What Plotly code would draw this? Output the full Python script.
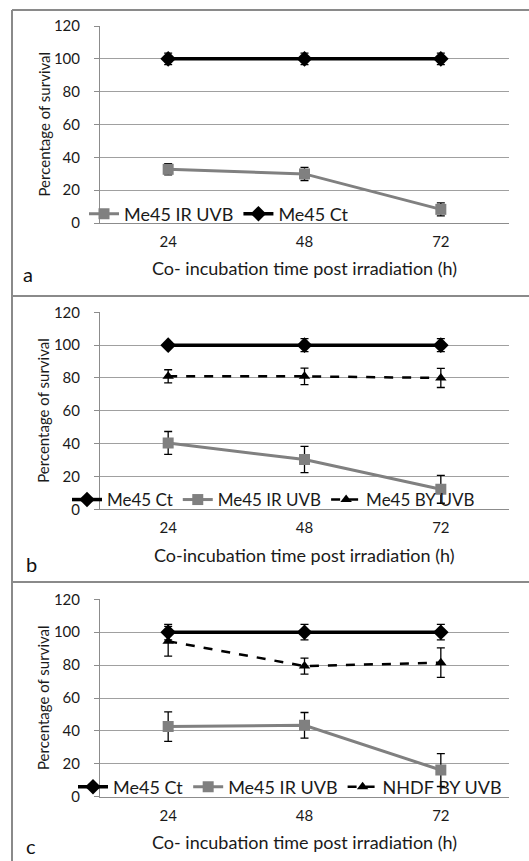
import plotly.graph_objects as go

W, H = 529, 861
FONT = "Lato"

times = ["24", "48", "72"]
y_ticks = [0, 20, 40, 60, 80, 100, 120]

# Panel a
a_ir = [32.7, 29.9, 8.3]
a_ir_err = [3.4, 4.0, 3.9]
a_ct = [100, 100, 100]
a_ct_err = [3.5, 3.5, 3.5]

# Panel b
b_ct = [100, 100, 100]
b_ct_err = [0.5, 4.0, 4.0]
b_ir = [40.4, 30.3, 12.2]
b_ir_err = [7.0, 8.0, 8.5]
b_by = [81, 81, 80]
b_by_err = [4.0, 5.0, 5.8]

# Panel c
c_ct = [100, 100, 100]
c_ct_err = [4.7, 4.7, 4.7]
c_ir = [42.6, 43.4, 16.2]
c_ir_err = [9.0, 7.8, 10.0]
c_by = [94.5, 79.4, 81.5]
c_by_err = [9.0, 4.9, 9.0]

GRAY = "#808080"
BLACK = "#000000"
AXC = "#8c8c8c"
TXT = "#1a1a1a"

fig = go.Figure()

def err(arr):
    return dict(type="data", array=arr, visible=True, color=BLACK, thickness=1.3, width=4)

def ct_trace(y, e, xa, ya, lg):
    return go.Scatter(x=times, y=y, error_y=err(e), name="Me45 Ct", mode="lines+markers",
                      line=dict(color=BLACK, width=3.5), marker=dict(symbol="diamond", size=12, color=BLACK),
                      xaxis=xa, yaxis=ya, legend=lg)

def ir_trace(y, e, xa, ya, lg):
    return go.Scatter(x=times, y=y, error_y=err(e), name="Me45 IR UVB", mode="lines+markers",
                      line=dict(color=GRAY, width=3), marker=dict(symbol="square", size=11, color=GRAY),
                      xaxis=xa, yaxis=ya, legend=lg)

def by_trace(y, e, name, xa, ya, lg):
    return go.Scatter(x=times, y=y, error_y=err(e), name=name, mode="lines+markers",
                      line=dict(color=BLACK, width=2.5, dash="dash"),
                      marker=dict(symbol="triangle-up", size=10, color=BLACK),
                      xaxis=xa, yaxis=ya, legend=lg)

# Panel a traces (legend order: IR, Ct)
fig.add_trace(ir_trace(a_ir, a_ir_err, "x", "y", "legend"))
fig.add_trace(ct_trace(a_ct, a_ct_err, "x", "y", "legend"))
# Panel b
fig.add_trace(ct_trace(b_ct, b_ct_err, "x2", "y2", "legend2"))
fig.add_trace(ir_trace(b_ir, b_ir_err, "x2", "y2", "legend2"))
fig.add_trace(by_trace(b_by, b_by_err, "Me45 BY UVB", "x2", "y2", "legend2"))
# Panel c
fig.add_trace(ct_trace(c_ct, c_ct_err, "x3", "y3", "legend3"))
fig.add_trace(ir_trace(c_ir, c_ir_err, "x3", "y3", "legend3"))
fig.add_trace(by_trace(c_by, c_by_err, "NHDF BY UVB", "x3", "y3", "legend3"))

x0, x1 = 100, 509
xdom = [x0 / W, x1 / W]
panels = [  # (px of 120, px of 0, title y, letter, letter x, letter y)
    (26, 223, 268, "a", 28, 274),
    (312.3, 509.3, 555, "b", 31, 564),
    (599.3, 796.7, 842, "c", 31, 846),
]

annotations = []
layout_axes = {}
for i, (ytop, ybot, ty, letter, lx, ly) in enumerate(panels):
    s = "" if i == 0 else str(i + 1)
    layout_axes["xaxis" + s] = dict(
        domain=xdom, type="category", range=[-0.5, 2.5], anchor="y" + s,
        showline=True, linecolor=AXC, linewidth=1, showgrid=False, ticks="",
        tickfont=dict(family=FONT, size=15, color=TXT), ticklabelstandoff=5,
    )
    layout_axes["yaxis" + s] = dict(
        domain=[1 - ybot / H, 1 - ytop / H], range=[0, 120], anchor="x" + s,
        tickvals=y_ticks, showline=True, linecolor=AXC, linewidth=1,
        showgrid=True, gridcolor="#a0a0a0", gridwidth=1, zeroline=False,
        ticks="outside", ticklen=5, tickcolor=AXC,
        tickfont=dict(family=FONT, size=15, color=TXT), ticklabelstandoff=11,
    )
    annotations.append(dict(
        text="Co- incubation time post irradiation (h)" if letter != "b" else "Co-incubation time post irradiation (h)",
        xref="paper", yref="paper", x=(x0 + x1) / 2 / W, y=1 - ty / H,
        xanchor="center", yanchor="middle", showarrow=False,
        font=dict(family=FONT, size=18, color=TXT)))
    annotations.append(dict(
        text="Percentage of survival", textangle=-90,
        xref="paper", yref="paper", x=43 / W, y=1 - (ytop + ybot) / 2 / H,
        xanchor="center", yanchor="middle", showarrow=False,
        font=dict(family=FONT, size=15, color=TXT)))
    annotations.append(dict(
        text=letter, xref="paper", yref="paper", x=lx / W, y=1 - ly / H,
        xanchor="center", yanchor="middle", showarrow=False,
        font=dict(family=FONT, size=20, color="#111")))

def legend_cfg(x, y, size):
    return dict(orientation="h", bgcolor="rgba(0,0,0,0)", yanchor="middle", xanchor="left",
                x=x, y=y, font=dict(family=FONT, size=size, color=TXT), itemwidth=30, tracegroupgap=0)

legends = {
    "legend": legend_cfg(84 / W, 1 - 214 / H, 18),
    "legend2": legend_cfg(67 / W, 1 - 500 / H, 17),
    "legend3": legend_cfg(73 / W, 1 - 787 / H, 18),
}

border = dict(color="#8a8a8a", width=2)
shapes = [
    dict(type="line", xref="paper", yref="paper", x0=12 / W, x1=12 / W, y0=0, y1=1 - 10 / H, line=border),
    dict(type="line", xref="paper", yref="paper", x0=12 / W, x1=1, y0=1 - 10 / H, y1=1 - 10 / H, line=border),
    dict(type="line", xref="paper", yref="paper", x0=12 / W, x1=1, y0=1 - 296 / H, y1=1 - 296 / H, line=border),
    dict(type="line", xref="paper", yref="paper", x0=12 / W, x1=1, y0=1 - 582 / H, y1=1 - 582 / H, line=border),
]

fig.update_layout(
    width=W, height=H, margin=dict(l=0, r=0, t=0, b=0, autoexpand=False),
    paper_bgcolor="white", plot_bgcolor="white",
    showlegend=True, annotations=annotations, shapes=shapes,
    **layout_axes, **legends,
)

fig.write_html("out.html")
